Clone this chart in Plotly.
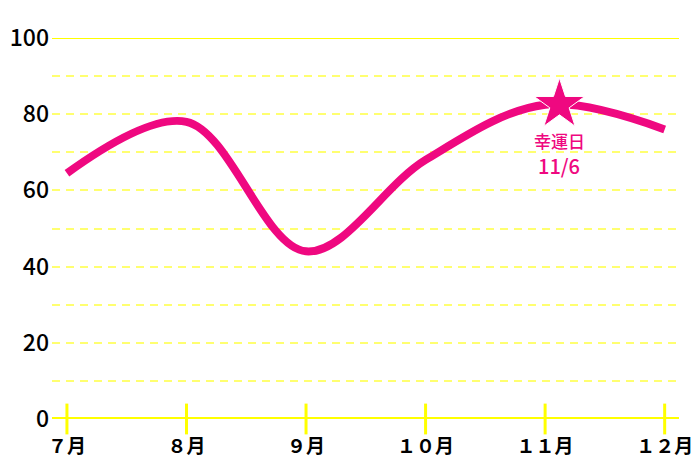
import plotly.graph_objects as go

months = [7, 8, 9, 10, 11, 12]
month_labels = ["７月", "８月", "９月", "１０月", "１１月", "１２月"]
values = [64.5, 78, 44, 68, 82.5, 76]
y_ticks = [0, 20, 40, 60, 80, 100]
lucky_x = 11.12
lucky_y = 82.5
lucky_title = "幸運日"
lucky_date = "11/6"

PINK = "#ef0880"
YELLOW = "#ffff00"
GRID = "#ffff70"
FONT = "Noto Sans CJK JP"

fig = go.Figure()

# tick crosses on x axis
fig.add_trace(go.Scatter(
    x=months, y=[0] * len(months), mode="markers",
    marker=dict(symbol="line-ns", size=22, line=dict(color=YELLOW, width=3)),
    cliponaxis=False, hoverinfo="skip", showlegend=False))

fig.add_trace(go.Scatter(
    x=months, y=values, mode="lines",
    line=dict(color=PINK, width=8, shape="spline", smoothing=1),
    showlegend=False, cliponaxis=False))

fig.add_trace(go.Scatter(
    x=[lucky_x], y=[lucky_y], mode="markers",
    marker=dict(symbol="star", size=38, color=PINK, line=dict(color="white", width=1)),
    showlegend=False, cliponaxis=False))

fig.add_annotation(x=lucky_x, y=lucky_y, text=lucky_title, showarrow=False,
                   yanchor="middle", yshift=-36,
                   font=dict(family=FONT, size=17, color=PINK, weight=500))
fig.add_annotation(x=lucky_x, y=lucky_y, text=lucky_date, showarrow=False,
                   yanchor="middle", yshift=-61,
                   font=dict(family=FONT, size=20, color=PINK, weight=500))

# solid top line at 100
fig.add_shape(type="line", xref="paper", x0=0, x1=1, yref="y", y0=100, y1=100,
              line=dict(color=YELLOW, width=2), layer="below")

fig.update_layout(
    width=700, height=467,
    margin=dict(l=52, r=21, t=38, b=48),
    plot_bgcolor="white", paper_bgcolor="white",
    font=dict(family=FONT, color="black"),
    xaxis=dict(range=[6.875, 12.12], tickvals=months, ticktext=month_labels,
               showgrid=False, zeroline=False, showline=False, ticks="",
               automargin=False,
               tickfont=dict(size=19, family=FONT, weight=600), ticklabelstandoff=14),
    yaxis=dict(range=[0, 100], tickvals=y_ticks, showgrid=False, zeroline=False,
               showline=False, ticks="", automargin=False,
               tickfont=dict(size=23, family=FONT, weight=500),
               ticklabelstandoff=2,
               minor=dict(dtick=10, tick0=0, showgrid=True, gridcolor=GRID,
                          griddash="8px,6px", gridwidth=2)),
)

# zero axis line
fig.add_shape(type="line", xref="paper", x0=0, x1=1, yref="y", y0=0, y1=0,
              line=dict(color=YELLOW, width=4), layer="below")

fig.write_html("out.html", config={"displayModeBar": False},
               post_script="document.body.style.margin='0';document.body.style.overflow='hidden';")
